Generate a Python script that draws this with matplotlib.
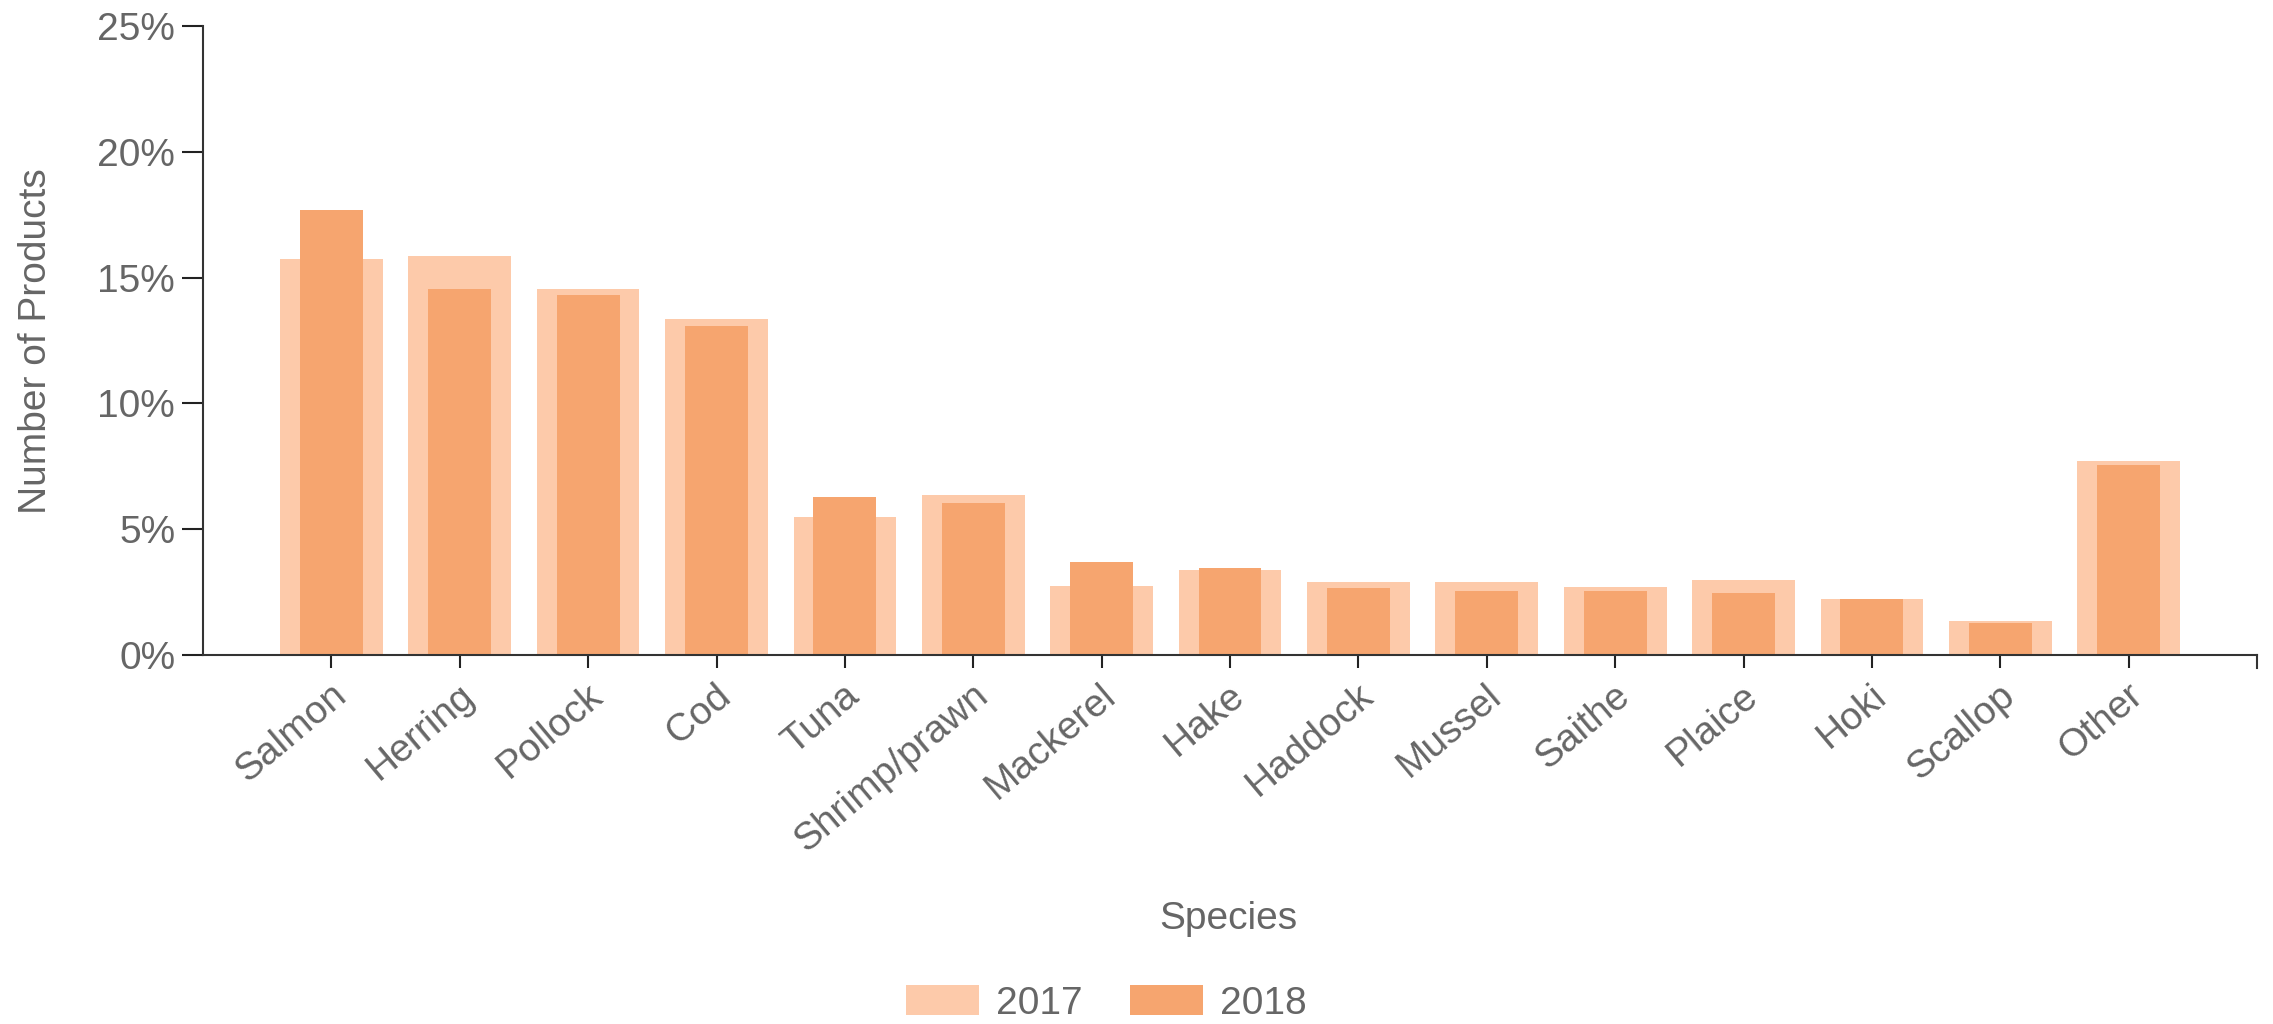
#%%
import matplotlib
matplotlib.use("Agg")
import matplotlib.pyplot as plt
import matplotlib.transforms as mtransforms
from matplotlib.patches import Patch
from matplotlib.ticker import FuncFormatter
import numpy as np

#%% data (percent of products)

species = ["Salmon", "Herring", "Pollock", "Cod", "Tuna", "Shrimp/prawn", "Mackerel", "Hake",
           "Haddock", "Mussel", "Saithe", "Plaice", "Hoki", "Scallop", "Other"]
share_2017 = [15.72, 15.86, 14.53, 13.36, 5.50, 6.36, 2.75, 3.38, 2.91, 2.91, 2.70, 2.99, 2.21, 1.35, 7.71]
share_2018 = [17.67, 14.53, 14.30, 13.06, 6.28, 6.05, 3.70, 3.47, 2.68, 2.53, 2.53, 2.45, 2.21, 1.27, 7.55]
years = ["2017", "2018"]
y_ticks = [0, 5, 10, 15, 20, 25]

#%% styling

plt.rcParams["font.family"] = ["Liberation Sans", "DejaVu Sans"]
text_col = "#666666"
light = "#FDCAAA"
dark = "#F6A56F"
fs = 28

fig = plt.figure(figsize=(22.73, 10.24), dpi=100)
ax = fig.add_axes([0.0893, 0.3604, 0.9037, 0.6142])

x = np.arange(len(species))
ax.bar(x, share_2017, width=0.80, color=light, zorder=1)
ax.bar(x, share_2018, width=0.49, color=dark, zorder=2)

ax.set_xlim(-1, len(species))
ax.set_ylim(0, 25)
ax.set_yticks(y_ticks)
ax.yaxis.set_major_formatter(FuncFormatter(lambda v, p: f"{v:.0f}%"))
ax.set_xticks(x)
ax.set_xticklabels(species)

for side in ["top", "right"]:
    ax.spines[side].set_visible(False)
for side in ["left", "bottom"]:
    ax.spines[side].set_linewidth(1.5)
    ax.spines[side].set_color("#333333")

ax.tick_params(axis="y", length=15, width=1.5, color="#222222", pad=5, labelsize=fs, labelcolor=text_col)
ax.tick_params(axis="x", length=9, width=1.5, color="#222222", pad=17, labelsize=fs, labelcolor=text_col)

offset = mtransforms.ScaledTranslation(10 / 100, 0, fig.dpi_scale_trans)
for lab in ax.get_xticklabels():
    lab.set_rotation(40)
    lab.set_ha("right")
    lab.set_va("center")
    lab.set_rotation_mode("anchor")
    lab.set_transform(lab.get_transform() + offset)

# end cap of the x axis on the right
ax.plot([1, 1], [0, -0.02], transform=ax.transAxes, color="#333333", lw=1.5, clip_on=False)

fig.text(36 / 2273, 1 - 341 / 1024, "Number of Products", rotation=90, ha="center", va="center",
         fontsize=fs, color=text_col)
fig.text(1228 / 2273, 1 - 919 / 1024, "Species", ha="center", va="center", fontsize=fs, color=text_col)

handles = [Patch(facecolor=light, edgecolor="none"), Patch(facecolor=dark, edgecolor="none")]
fig.legend(handles, years, loc="center", bbox_to_anchor=(0.4868, 0.02), ncol=2, frameon=False,
           fontsize=fs, labelcolor=text_col, handlelength=1.88, handleheight=0.8,
           handletextpad=0.45, columnspacing=1.2, borderpad=0)

fig.savefig("out.png", dpi=100)
